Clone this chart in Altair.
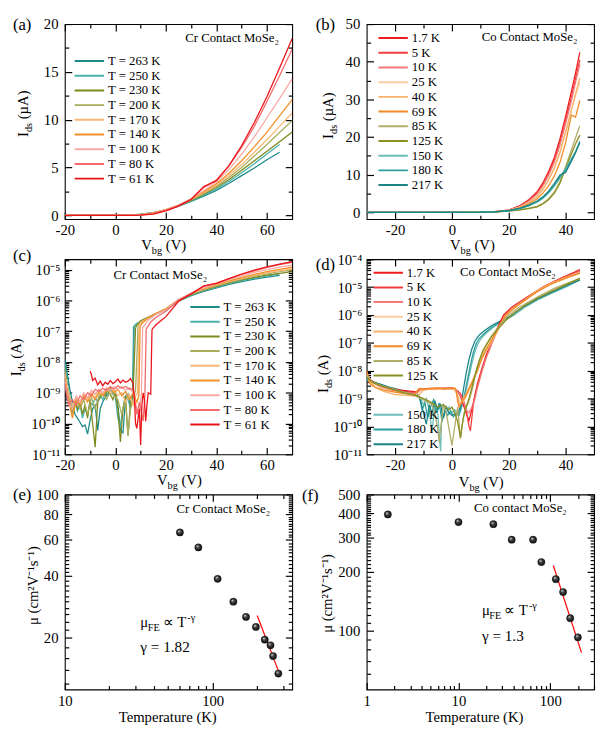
import altair as alt
import pandas as pd

SERIF = "Liberation Serif"
W, H = 232, 199
ONE = pd.DataFrame({"o": [0]})

# ---------------- legend labels / colours ----------------
CR_T = ["T = 263 K", "T = 250 K", "T = 230 K", "T = 200 K", "T = 170 K",
        "T = 140 K", "T = 100 K", "T = 80 K", "T = 61 K"]
CR_COL = ["#1d8b88", "#48b3ae", "#7d891d", "#a9ad5d", "#f7b878",
          "#f29028", "#f6aaa6", "#f26a6a", "#e8141a"]
CO_T = ["1.7 K", "5 K", "10 K", "25 K", "40 K", "69 K", "85 K", "125 K",
        "150 K", "180 K", "217 K"]
CO_COL = ["#ee1c1c", "#f23c3c", "#f27a7a", "#f9cda0", "#f8b26a", "#f08a24",
          "#b0ae68", "#8a8f22", "#6cbcb8", "#2f9f9c", "#1a8583"]

# ---------------- (a) Cr contact, I_ds (uA) vs V_bg ----------------
A_V = [-20, -10, 0, 5, 10, 15, 20, 25, 30, 35, 40, 45, 50, 55, 60, 65, 70]
A_263 = [0, 0, 0, 0, 0.12, 0.28, 0.55, 0.95, 1.45, 2.0, 2.6, 3.35, 4.15, 4.95, 5.8, 6.6]
A_250 = [0, 0, 0, 0, 0.1, 0.27, 0.55, 0.97, 1.5, 2.1, 2.75, 3.55, 4.45, 5.4, 6.4, 7.4]
A_230 = [0, 0, 0, 0, 0.08, 0.26, 0.56, 1.0, 1.55, 2.2, 2.9, 3.75, 4.7, 5.7, 6.7, 7.7, 8.7]
A_200 = [0, 0, 0, 0, 0.07, 0.25, 0.57, 1.02, 1.6, 2.3, 3.05, 3.95, 5.0, 6.2, 7.4, 8.65, 9.9]
A_170 = [0, 0, 0, 0, 0.06, 0.24, 0.58, 1.05, 1.65, 2.35, 3.15, 4.15, 5.3, 6.6, 7.9, 9.3, 10.7]
A_140 = [0, 0, 0, 0, 0.05, 0.22, 0.58, 1.07, 1.7, 2.45, 3.3, 4.4, 5.7, 7.15, 8.7, 10.4, 12.1]
A_100 = [0, 0, 0, 0, 0.04, 0.2, 0.56, 1.07, 1.72, 2.6, 3.5, 4.8, 6.4, 8.2, 10.2, 12.2, 14.3]
A_80 = [0, 0, 0, 0, 0.03, 0.17, 0.52, 1.02, 1.7, 2.9, 3.7, 5.2, 7.1, 9.3, 11.9, 14.6, 17.4]
A_61 = [0, 0, 0, 0, 0.02, 0.12, 0.45, 0.95, 1.65, 3.0, 3.6, 5.2, 7.3, 9.7, 12.4, 15.4, 18.5]
A_ALL = [A_263, A_250, A_230, A_200, A_170, A_140, A_100, A_80, A_61]

# ---------------- (b) Co contact, I_ds (uA) vs V_bg ----------------
B_V = [-30, -10, 10, 15, 20, 24, 27, 30, 32, 34, 36, 38, 40, 42, 43.5, 45]
B_1_7 = [0, 0, 0.02, 0.15, 0.6, 1.8, 3.3, 5.5, 7.8, 10.8, 14.5, 19.5, 25.5, 32, 37, 42.5]
B_5 = [0, 0, 0.02, 0.15, 0.58, 1.7, 3.1, 5.2, 7.4, 10.3, 13.8, 18.6, 24.5, 30.5, 35.5, 40.5]
B_10 = [0, 0, 0.02, 0.14, 0.55, 1.6, 2.9, 4.9, 7.0, 9.8, 13.2, 17.8, 23.5, 29.5, 34.5, 39.3]
B_25 = [0, 0, 0.02, 0.13, 0.5, 1.4, 2.6, 4.4, 6.3, 8.8, 11.9, 16.2, 21.5, 27, 31, 34.5]
B_40 = [0, 0, 0.02, 0.13, 0.5, 1.35, 2.5, 4.2, 6.0, 8.5, 11.6, 15.8, 21.2, 27, 31.5, 35.7]
B_69 = [0, 0, 0.02, 0.12, 0.45, 1.2, 2.2, 3.6, 5.1, 7.0, 9.6, 13.2, 18.5, 25.8, 25.3, 29.7]
B_85 = [0, 0, 0.02, 0.1, 0.32, 0.7, 1.1, 1.6, 2.4, 3.6, 5.4, 8.2, 12.2, 16.5, 19.8, 23.0]
B_125 = [0, 0, 0.02, 0.09, 0.3, 0.65, 1.0, 1.45, 2.2, 3.3, 5.0, 7.7, 11.6, 15.5, 18.2, 20.5]
B_150 = [0, 0, 0.02, 0.11, 0.4, 1.0, 1.7, 2.7, 3.7, 5.1, 6.9, 9.1, 11.6, 14.2, 16.2, 18.6]
B_180 = [0, 0, 0.02, 0.11, 0.42, 1.05, 1.8, 2.9, 3.9, 5.4, 7.2, 9.4, 11.3, 13.8, 16.0, 18.5]
B_217 = [0, 0, 0.02, 0.12, 0.45, 1.1, 1.9, 3.0, 4.1, 5.6, 7.6, 9.9, 10.6, 13.5, 15.8, 18.8]
B_ALL = [B_1_7, B_5, B_10, B_25, B_40, B_69, B_85, B_125, B_150, B_180, B_217]

# ---------------- (c) Cr contact, log I_ds (A): off state + switch-on ----------------
C263_V = [-20, -19, -18, -17, -16, -15, -14, -13, -12, -11, -10, -9, -8, -7, -6, -5, -4, -3, -2, -1,
          0, 1, 2, 3, 4, 5, 6, 6.8, 7.2, 8, 10, 13, 16, 20]
C263_I = [1.2e-8, 4e-9, 1.3e-9, 5e-10, 2e-10, 1.5e-10, 1.1e-10, 8e-11, 9e-11, 4.5e-11, 1.3e-10, 3e-10,
          4e-10, 6e-11, 3e-10, 5e-10, 7e-10, 9e-10, 1.4e-9, 1e-9, 1.1e-9, 4e-10, 6e-11, 5e-11, 6e-10,
          9e-10, 4e-10, 5e-10, 1.4e-7, 1.6e-7, 2e-7, 2.7e-7, 3.6e-7, 5e-7]
C250_V = [-20, -19, -18, -17, -16, -15, -14, -13, -12, -11, -10, -9, -8, -7, -6, -5, -4, -3, -2, -1,
          0, 1, 2, 3, 4, 5, 6, 7, 7.5, 8, 10, 13, 16, 20]
C250_I = [8e-9, 2e-9, 8e-10, 3e-10, 5e-10, 2.5e-10, 4e-10, 1.5e-10, 3e-10, 2e-10, 5e-10, 4e-10, 7e-10,
          5e-10, 8e-10, 6e-10, 1e-9, 8e-10, 1.2e-9, 1e-9, 7e-10, 1.5e-10, 9e-11, 3e-10, 8e-10, 6e-10,
          3e-10, 8e-10, 1.5e-7, 1.7e-7, 2.1e-7, 2.8e-7, 3.7e-7, 5.1e-7]
C230_V = [-20, -19, -18, -17, -16, -15, -14, -13, -12, -11, -10, -9, -8, -7, -6, -5, -4, -3, -2, -1,
          0, 1, 2, 3, 4, 5, 6, 7, 8, 8.5, 10, 13, 16, 20]
C230_I = [6e-9, 1.5e-9, 5e-10, 2e-10, 6e-10, 3e-10, 5e-10, 2e-10, 4e-10, 1.5e-10, 6e-10, 1e-10, 1.7e-11,
          5e-10, 7e-10, 1e-9, 8e-10, 1.2e-9, 9e-10, 6e-10, 1e-9, 3e-10, 2.5e-11, 3e-10, 8e-10, 4e-11,
          5e-10, 1e-9, 1.3e-7, 1.6e-7, 2.2e-7, 2.9e-7, 3.8e-7, 5.2e-7]
C200_V = [-20, -18.5, -17, -15.5, -14, -12.5, -11, -9.5, -8, -6.5, -5, -3.5, -2, -0.5, 1, 2.5, 4, 5,
          6, 7, 8, 9, 10, 13, 16, 20]
C200_I = [5e-9, 8e-10, 2e-10, 5e-10, 3e-10, 6e-10, 2e-10, 7e-10, 3e-10, 8e-10, 1e-9, 6e-10, 1.1e-9,
          8e-10, 6e-10, 2e-10, 6e-10, 4e-11, 3e-10, 6e-10, 1.2e-9, 1.6e-7, 2e-7, 2.8e-7, 3.8e-7, 5.3e-7]
C170_V = [-20, -18.5, -17, -15.5, -14, -12.5, -11, -9.5, -8, -6.5, -5, -3.5, -2, -0.5, 1, 2.5, 4, 5.5,
          7, 8, 8.8, 9.3, 10, 13, 16, 20]
C170_I = [4e-9, 1e-9, 4e-10, 7e-10, 5e-10, 9e-10, 6e-10, 1e-9, 7e-10, 1.2e-9, 9e-10, 1.3e-9, 1e-9,
          1.2e-9, 8e-10, 1e-9, 5e-10, 9e-10, 4e-10, 8e-10, 1e-9, 1.5e-7, 1.9e-7, 2.8e-7, 3.8e-7, 5.4e-7]
C140_V = [-20, -18.5, -17, -15.5, -14, -12.5, -11, -9.5, -8, -6.5, -5, -3.5, -2, -0.5, 1, 2.5, 4, 5.5,
          7, 8.5, 9.3, 9.8, 10.5, 13, 16, 20]
C140_I = [3e-9, 6e-10, 1.5e-10, 6e-10, 4e-10, 8e-10, 5e-10, 9e-10, 6e-10, 1e-9, 8e-10, 1.2e-9, 1.5e-9,
          1e-9, 1.3e-9, 8e-10, 1.1e-9, 6e-10, 1e-9, 5e-10, 8e-10, 1.4e-7, 1.8e-7, 2.7e-7, 3.8e-7, 5.4e-7]
C100_V = [-20, -18.5, -17, -15.5, -14, -12.5, -11, -9.5, -8, -6.5, -5, -3.5, -2, -0.5, 1, 2.5, 4, 5.5,
          7, 8.5, 9.5, 10.3, 10.8, 13, 16, 20]
C100_I = [2.5e-9, 5e-10, 3e-10, 8e-10, 5e-10, 1e-9, 7e-10, 1.2e-9, 9e-10, 1.3e-9, 1e-9, 1.5e-9, 1.2e-9,
          1.6e-9, 1.3e-9, 1.6e-9, 1.2e-9, 1.5e-9, 1e-9, 3e-10, 2e-10, 1e-9, 1.3e-7, 2.3e-7, 3.5e-7, 5e-7]
C80_V = [-20, -18.5, -17, -15.5, -14, -12.5, -11, -9.5, -8, -6.5, -5, -3.5, -2, -0.5, 1, 2.5, 4, 5.5,
         7, 8.5, 9.5, 11, 11.7, 12.2, 14, 16, 20]
C80_I = [2e-9, 4e-10, 6e-10, 4e-10, 8e-10, 6e-10, 1e-9, 8e-10, 1.3e-9, 1.1e-9, 1.4e-9, 1.2e-9, 1.6e-9,
         1.3e-9, 1.7e-9, 1.4e-9, 1.6e-9, 1.3e-9, 1.4e-9, 2e-10, 5e-10, 1.2e-10, 9e-10, 1.2e-7, 2e-7,
         2.8e-7, 4.5e-7]
C61_V = [-10, -9.5, -9, -8, -7, -6, -5, -4, -3, -2, -1, 0, 1, 2, 3, 4, 5, 6, 7, 7.5, 8, 8.5, 9, 9.5,
         10, 10.5, 11, 11.5, 12, 12.5, 13, 14, 14.5, 15, 16, 18, 20]
C61_I = [5e-9, 4e-9, 2.5e-9, 3e-9, 1.8e-9, 2.4e-9, 1.7e-9, 2.2e-9, 1.9e-9, 2.5e-9, 2e-9, 2.3e-9, 2.8e-9,
         2.1e-9, 2.6e-9, 2.2e-9, 2.4e-9, 2.9e-9, 2e-9, 7e-10, 1e-10, 7e-11, 1.5e-10, 3e-10, 2e-11, 4e-10,
         1e-9, 6e-10, 1.2e-10, 4e-10, 1e-9, 9e-10, 1.1e-7, 1.3e-7, 1.6e-7, 2.2e-7, 3e-7]
C_OFF = [(C263_V, C263_I), (C250_V, C250_I), (C230_V, C230_I), (C200_V, C200_I), (C170_V, C170_I),
         (C140_V, C140_I), (C100_V, C100_I), (C80_V, C80_I), (C61_V, C61_I)]

# ---------------- (d) Co contact, log I_ds (A) ----------------
D1_7_V = [-30, -29, -26, -22, -18, -14, -12, -11.5, -8, -4, 0, 1, 2, 3, 4, 5, 6, 7, 8, 9, 10.3, 12,
          13.7, 16, 18.2, 21, 25, 28, 32, 36, 40, 43, 45]
D1_7_I = [9e-9, 5e-9, 3e-9, 2.3e-9, 2e-9, 1.8e-9, 1.7e-9, 2.2e-9, 2.3e-9, 2.3e-9, 2.4e-9, 2.2e-9, 1.8e-9,
          1.2e-9, 6e-10, 3e-10, 1.6e-10, 4e-10, 1.2e-9, 3.5e-9, 1e-8, 3.5e-8, 1e-7, 3.5e-7, 1e-6, 1.9e-6,
          3.5e-6, 5.5e-6, 1e-5, 1.6e-5, 2.5e-5, 3.4e-5, 4.3e-5]
D5_V = [-30, -29, -26, -22, -18, -14, -12, -11, -8, -4, 0, 1, 2, 3, 4, 5, 5.5, 6, 6.5, 7, 7.5, 8, 9,
        10.5, 12, 14, 16, 18.5, 21, 25, 28, 32, 36, 40, 43, 45]
D5_I = [8e-9, 4.5e-9, 2.8e-9, 2.1e-9, 1.8e-9, 1.6e-9, 1.6e-9, 2.1e-9, 2.2e-9, 2.3e-9, 2.3e-9, 2.1e-9,
        1.9e-9, 1.5e-9, 9e-10, 4e-10, 2e-10, 1e-10, 7e-11, 2e-10, 6e-10, 1.1e-9, 3e-9, 1e-8, 3e-8, 1e-7,
        3e-7, 9e-7, 1.8e-6, 3.3e-6, 5.2e-6, 9.5e-6, 1.5e-5, 2.4e-5, 3.2e-5, 4e-5]
D10_V = [-30, -28, -25, -21, -17, -13, -11.5, -8, -4, 0, 1.5, 3, 4, 5, 6, 7, 8, 9, 10.5, 12, 14, 16,
         18.5, 21, 25, 28, 32, 36, 40, 45]
D10_I = [7e-9, 3.8e-9, 2.6e-9, 2e-9, 1.7e-9, 1.5e-9, 2.1e-9, 2.2e-9, 2.3e-9, 2.2e-9, 2e-9, 1.3e-9, 8e-10,
         4e-10, 3e-10, 5e-10, 9e-10, 2.5e-9, 9e-9, 2.8e-8, 9e-8, 2.8e-7, 8.5e-7, 1.7e-6, 3.2e-6, 5e-6,
         9e-6, 1.5e-5, 2.3e-5, 3.7e-5]
D25_V = [-30, -28, -25, -21, -17, -13, -11, -8, -5, -2, 0, 1, 2, 3, 4, 5, 6, 7, 8, 9, 10, 11.5, 13.5,
         16, 19, 22, 26, 30, 35, 40, 45]
D25_I = [7e-9, 3.5e-9, 2.4e-9, 1.8e-9, 1.5e-9, 1.3e-9, 1.9e-9, 2.2e-9, 2.1e-9, 2.3e-9, 2.2e-9, 2e-9,
         1.4e-9, 7e-10, 8e-10, 1.2e-9, 2e-9, 3.5e-9, 6e-9, 1e-8, 2e-8, 4e-8, 9e-8, 2.6e-7, 9e-7, 1.8e-6,
         3.5e-6, 7e-6, 1.3e-5, 2e-5, 3.1e-5]
D40_V = [-30, -29, -27, -24, -20, -16, -12, -10, -8, -6, -4, -2, 0, 1, 2, 2.5, 3, 4, 5, 6, 7, 8, 9,
         10, 11.5, 13.5, 16, 19, 22, 26, 30, 35, 40, 45]
D40_I = [8e-9, 4e-9, 2.5e-9, 1.8e-9, 1.4e-9, 1.3e-9, 1.2e-9, 2e-9, 2.2e-9, 2.1e-9, 2.3e-9, 2.2e-9,
         2.3e-9, 2.1e-9, 1.2e-9, 6e-10, 7e-10, 1e-9, 1.5e-9, 2.5e-9, 4e-9, 7e-9, 1.2e-8, 2.3e-8, 5e-8,
         1.1e-7, 3e-7, 1e-6, 1.9e-6, 3.7e-6, 7.5e-6, 1.4e-5, 2.2e-5, 3.3e-5]
D69_V = [-30, -29.5, -29, -27, -24, -20, -16, -13, -12, -11, -9, -7, -5, -3, -1, 0, 1, 1.5, 2, 2.5,
         3, 4, 5, 6, 7, 8, 9, 10, 11.5, 13.5, 16, 19, 22, 26, 30, 35, 40, 45]
D69_I = [1e-8, 6e-9, 3.5e-9, 2.5e-9, 2e-9, 1.7e-9, 1.5e-9, 1.4e-9, 2.1e-9, 2.3e-9, 2.2e-9, 2.3e-9,
         2.4e-9, 2.2e-9, 2.4e-9, 2.3e-9, 2.4e-9, 2e-9, 8e-10, 5e-10, 6e-10, 9e-10, 1.3e-9, 2.2e-9,
         3.5e-9, 6e-9, 1e-8, 2e-8, 4.5e-8, 1e-7, 2.8e-7, 1e-6, 1.8e-6, 3.5e-6, 7e-6, 1.3e-5, 2.1e-5, 3.2e-5]
D85_V = [-30, -28, -25, -21, -17, -13, -11, -9, -7, -6, -5, -4.5, -4, -3, -2, -1, 0, 1, 2, 3, 3.5,
         4.5, 5.5, 6.5, 7.5, 8.5, 9.5, 10.5, 11.5, 12.5, 14, 16, 19.5, 23, 27, 31, 36, 40, 45]
D85_I = [7e-9, 4e-9, 3e-9, 2.3e-9, 1.7e-9, 1.3e-9, 1e-9, 8e-10, 6e-10, 3e-10, 8e-11, 2.8e-11, 8e-11,
         6e-10, 3e-10, 8e-11, 2.1e-11, 1e-10, 5e-10, 3.6e-11, 1e-10, 4e-10, 6e-10, 1.2e-9, 3e-9, 1e-8,
         2.2e-8, 4e-8, 6.5e-8, 1e-7, 1.8e-7, 3.4e-7, 9e-7, 1.7e-6, 3e-6, 5e-6, 9e-6, 1.3e-5, 2e-5]
D125_V = [-30, -28, -25, -21, -17, -13, -11, -9, -7, -5, -3, -1, 0, 1, 2, 3, 4, 5, 6, 7, 8, 9, 10,
          11, 12.5, 14, 16, 19, 22, 26, 30, 35, 40, 45]
D125_I = [6e-9, 3.8e-9, 2.9e-9, 2.2e-9, 1.6e-9, 1.3e-9, 1.1e-9, 9e-10, 7e-10, 5e-10, 6e-10, 4e-10,
          5e-10, 3e-10, 1.5e-10, 4e-11, 2e-10, 5e-10, 1e-9, 2.5e-9, 6e-9, 1.4e-8, 3e-8, 5.5e-8, 1e-7,
          1.7e-7, 3e-7, 6.5e-7, 1.2e-6, 2.3e-6, 4e-6, 7e-6, 1.2e-5, 2.1e-5]
D150_V = [-30, -28, -25, -21, -17, -13, -11, -10, -9, -8, -7, -6, -5, -4, -3.5, -3, -2, -1, 0, 1, 2,
          3, 4, 5, 6, 7, 8, 9, 10, 12, 14, 16, 19, 22, 26, 30, 35, 40, 45]
D150_I = [5e-9, 3.5e-9, 2.8e-9, 2.2e-9, 1.7e-9, 1.4e-9, 1e-9, 6e-10, 1e-9, 4e-10, 6e-11, 7e-10, 3e-10,
          1.3e-11, 4e-10, 6e-10, 3e-10, 5e-10, 3e-10, 4e-10, 2.5e-10, 3.5e-10, 8e-10, 2e-9, 6e-9, 1.8e-8,
          4.5e-8, 8.5e-8, 1.3e-7, 2.2e-7, 3.3e-7, 4.6e-7, 6.8e-7, 1e-6, 2e-6, 3.4e-6, 6e-6, 1e-5, 1.8e-5]
D180_V = [-30, -28, -25, -21, -17, -13, -11.5, -10.5, -9.5, -8.5, -7.5, -6.5, -5.5, -4.5, -3.5, -2.5,
          -1.5, -0.5, 0.5, 1.5, 2.5, 3.5, 4.5, 5.5, 6.5, 7.5, 8.5, 9.5, 11, 13, 15, 18, 21, 25, 30, 35,
          40, 45]
D180_I = [5e-9, 3.8e-9, 3e-9, 2.3e-9, 1.8e-9, 1.5e-9, 1.2e-9, 4e-10, 7e-10, 2e-10, 5e-10, 9e-10, 3e-10,
          7e-10, 1.5e-10, 4e-10, 2.5e-10, 3.5e-10, 2.2e-10, 3e-10, 2.5e-10, 6e-10, 1.5e-9, 5e-9, 1.6e-8,
          4.5e-8, 9e-8, 1.4e-7, 2e-7, 3e-7, 4.3e-7, 6.5e-7, 9.5e-7, 2e-6, 3.8e-6, 6.5e-6, 1.1e-5, 1.85e-5]
D217_V = [-30, -29, -26, -22, -18, -14, -12, -11, -10, -9, -8, -7, -6, -5, -4, -3, -2, -1, 0, 1, 2, 3,
          4, 5, 6, 7, 8, 9, 10, 12, 14, 17, 20, 25, 30, 35, 40, 45]
D217_I = [6e-9, 4.5e-9, 3.5e-9, 2.6e-9, 2e-9, 1.6e-9, 1.4e-9, 8e-10, 3e-10, 1.2e-10, 6e-10, 3e-10,
          8e-10, 4e-10, 6e-10, 2e-10, 5e-10, 3e-10, 2.5e-10, 2.8e-10, 3e-10, 5e-10, 2e-9, 8e-9, 2.5e-8,
          6e-8, 1.1e-7, 1.6e-7, 2.1e-7, 3e-7, 4.2e-7, 6e-7, 8.5e-7, 1.9e-6, 3.8e-6, 6.5e-6, 1.1e-5, 1.8e-5]
D_ALL = [(D1_7_V, D1_7_I), (D5_V, D5_I), (D10_V, D10_I), (D25_V, D25_I), (D40_V, D40_I),
         (D69_V, D69_I), (D85_V, D85_I), (D125_V, D125_I), (D150_V, D150_I), (D180_V, D180_I),
         (D217_V, D217_I)]

# ---------------- (e), (f) mobility vs temperature ----------------
E_T = [60, 80, 108, 138, 168, 196, 225, 246, 256, 278]
E_MU = [65.3, 55.2, 38.8, 30.0, 25.3, 22.6, 19.6, 18.4, 16.3, 13.4]
E_FIT_T = [200, 285]
E_FIT_MU = [25.7, 13.2]
F_T = [1.7, 10, 24, 38, 65, 80, 115, 138, 165, 200]
F_MU = [395, 361, 352, 293, 293, 225, 184, 158, 116, 92.6]
F_FIT_T = [108, 219]
F_FIT_MU = [216, 77.3]


# ================= helpers =================
def long_df(labels, series, field="T"):
    rows = []
    for lab, (vs, ys) in zip(labels, series):
        for k, (v, y) in enumerate(zip(vs, ys)):
            rows.append({"V": v, "I": y, field: lab, "k": k})
    return pd.DataFrame(rows)


SUP = str.maketrans("-0123456789", "⁻⁰¹²³⁴⁵⁶⁷⁸⁹")
PLAIN = "(datum.value < 0 ? '-' : '') + abs(datum.value)"


def pow10_expr(e0, e1):
    expr = "''"
    for e in range(e1, e0 - 1, -1):
        expr = f"datum.value < {3 * 10.0 ** e:.3g} ? '10{str(e).translate(SUP)}' : (" + expr + ")"
    return expr


def log_minor(lo, hi, e0, e1):
    return [k * 10.0 ** e for e in range(e0, e1 + 1) for k in range(2, 10) if lo <= k * 10.0 ** e <= hi]


def frame_layers(xs, ys, x0, y0, xmaj, xmin, ymaj, ymin, xexpr=PLAIN, yexpr=PLAIN, ypad=7):
    d = pd.DataFrame({"fx": [x0], "fy": [y0]})

    def ax(orient, vals, size, labels=False, expr=PLAIN, pad=4):
        if labels:
            return alt.Axis(orient=orient, values=vals, grid=False, domain=False, title=None,
                            ticks=False, tickSize=0, labelExpr=expr, labelPadding=pad,
                            labelFlush=False, labelOverlap=False, labelFont=SERIF,
                            labelFontSize=15, labelColor="black")
        return alt.Axis(orient=orient, values=vals, grid=False, domain=False, title=None,
                        labels=False, ticks=True, tickSize=size, offset=-size,
                        tickColor="black", tickWidth=1.2)

    specs = [
        (ax("bottom", xmaj, 0, True, xexpr, 4), ax("left", ymaj, 0, True, yexpr, ypad)),
        (ax("bottom", xmaj, 7), ax("left", ymaj, 7)),
        (ax("top", xmaj, 7), ax("right", ymaj, 7)),
        (ax("bottom", xmin, 4), ax("left", ymin, 4)),
        (ax("top", xmin, 4), ax("right", ymin, 4)),
    ]
    return [alt.Chart(d).mark_point(opacity=0).encode(
        x=alt.X("fx:Q", scale=xs, axis=a1), y=alt.Y("fy:Q", scale=ys, axis=a2)) for a1, a2 in specs]


def legend(x, y):
    return alt.Legend(orient="none", legendX=x, legendY=y, title=None, symbolType="stroke",
                      symbolSize=900, symbolStrokeWidth=2, clipHeight=14.6, rowPadding=0,
                      labelFont=SERIF, labelFontSize=13, labelColor="black", labelOffset=3,
                      padding=0, labelLimit=200)


def lines(df, xs, ys, field, labels, colors, leg):
    return alt.Chart(df).mark_line(strokeWidth=1.3, clip=True).encode(
        x=alt.X("V:Q", scale=xs, axis=None),
        y=alt.Y("I:Q", scale=ys, axis=None),
        color=alt.Color(f"{field}:N", scale=alt.Scale(domain=labels, range=colors), legend=leg),
        order="k:Q")


def txt(s, x, y, size=15, angle=0, align="left", baseline="alphabetic"):
    return alt.Chart(ONE).mark_text(text=s, font=SERIF, fontSize=size, angle=angle, align=align,
                                    baseline=baseline, color="black").encode(
        x=alt.value(x), y=alt.value(y))


def dtxt(s, xv, yv, xs, ys, size=13, dx=0, dy=0, align="left", baseline="alphabetic"):
    d = pd.DataFrame({"ax": [xv], "ay": [yv]})
    return alt.Chart(d).mark_text(text=s, font=SERIF, fontSize=size, dx=dx, dy=dy, align=align,
                                  baseline=baseline, color="black").encode(
        x=alt.X("ax:Q", scale=xs, axis=None), y=alt.Y("ay:Q", scale=ys, axis=None))


def xtitle_vbg(cx, by):
    x0 = cx - 23
    return [txt("V", x0, by), txt("bg", x0 + 10.8, by + 4, size=10.5), txt("(V)", x0 + 25, by)]


def ytitle_ids(bx, cy, unit, unit_w):
    total = 5 + 9.3 + 3.75 + unit_w
    y0 = cy + total / 2
    return [txt("I", bx, y0, angle=270), txt("ds", bx + 4, y0 - 5, size=10.5, angle=270),
            txt(unit, bx, y0 - 18, angle=270)]


def mu_fe(xv, yv, xs, ys):
    return [dtxt("μ", xv, yv, xs, ys, 15), dtxt("FE", xv, yv, xs, ys, 10.5, dx=7.5, dy=4),
            dtxt("∝ T", xv, yv, xs, ys, 15, dx=23), dtxt("-γ", xv, yv, xs, ys, 10.5, dx=48, dy=-6)]


def panel(layers, indep_color=False):
    ch = alt.layer(*layers).properties(width=W, height=H).resolve_axis(x="independent", y="independent")
    if indep_color:
        ch = ch.resolve_scale(color="independent")
    return ch


SPHERE = alt.RadialGradient(gradient="radial", x1=0.35, y1=0.3, r1=0, x2=0.5, y2=0.5, r2=0.6,
                            stops=[alt.GradientStop(offset=0, color="#f0f0f0"),
                                   alt.GradientStop(offset=0.35, color="#444444"),
                                   alt.GradientStop(offset=1, color="#000000")])


def spheres(T, MU, xs, ys):
    d = pd.DataFrame({"Tk": T, "mu": MU})
    return alt.Chart(d).mark_circle(size=55, opacity=1, fill=SPHERE, stroke="#000000",
                                    strokeWidth=0.4).encode(
        x=alt.X("Tk:Q", scale=xs, axis=None), y=alt.Y("mu:Q", scale=ys, axis=None))


def fit(T, MU, xs, ys):
    d = pd.DataFrame({"Tk": T, "mu": MU})
    return alt.Chart(d).mark_line(color="#ff1010", strokeWidth=1.3).encode(
        x=alt.X("Tk:Q", scale=xs, axis=None), y=alt.Y("mu:Q", scale=ys, axis=None))


# ================= panel (a) =================
xa = alt.Scale(domain=[-20, 70], nice=False, zero=False)
ya = alt.Scale(domain=[-0.4, 20], nice=False, zero=False)
df_a = long_df(CR_T, [(A_V, s) for s in A_ALL])
pa = panel(
    frame_layers(xa, ya, -20, 0, [-20, 0, 20, 40, 60], [-10, 10, 30, 50], [0, 5, 10, 15, 20],
                 [2.5, 7.5, 12.5, 17.5])
    + [lines(df_a, xa, ya, "T", CR_T, CR_COL, legend(9, 30.4)),
       dtxt("Cr Contact MoSe₂", 46.2, 18.5, xa, ya, 13, align="center", baseline="middle"),
       txt("(a)", -53, -7, size=17, baseline="top")]
    + ytitle_ids(-38, 92, "(µA)", 28.3) + xtitle_vbg(101, 231))

# ================= panel (b) =================
xb = alt.Scale(domain=[-30, 50], nice=False, zero=False)
yb = alt.Scale(domain=[-1.8, 50], nice=False, zero=False)
df_b = long_df(CO_T, [(B_V, s) for s in B_ALL])
pb = panel(
    frame_layers(xb, yb, -30, 0, [-20, 0, 20, 40], [-10, 10, 30], [0, 10, 20, 30, 40, 50],
                 [5, 15, 25, 35, 45])
    + [lines(df_b, xb, yb, "T", CO_T, CO_COL, legend(11, 7)),
       dtxt("Co Contact MoSe₂", 27.3, 46.5, xb, yb, 13, align="center", baseline="middle"),
       txt("(b)", -52, -7, size=17, baseline="top")]
    + ytitle_ids(-34, 94, "(µA)", 28.3) + xtitle_vbg(108, 231))

# ================= panel (c) =================
xc = alt.Scale(domain=[-20, 70], nice=False, zero=False)
yc = alt.Scale(type="log", domain=[1e-11, 2.2e-5], nice=False)
c_series = []
for (vs, ys), a in zip(C_OFF, A_ALL):
    c_series.append((vs + A_V[7:], ys + [v * 1e-6 for v in a[7:]]))
df_c = long_df(CR_T, c_series)
pc = panel(
    frame_layers(xc, yc, -20, 1e-9, [-20, 0, 20, 40, 60], [-10, 10, 30, 50],
                 [10.0 ** e for e in range(-11, -4)], log_minor(1e-11, 2.2e-5, -11, -5),
                 yexpr=pow10_expr(-11, -5), ypad=5)
    + [lines(df_c, xc, yc, "T", CR_T, CR_COL, legend(127, 41.4)),
       dtxt("Cr Contact MoSe₂", 17.8, 6.6e-6, xc, yc, 13, align="center", baseline="middle"),
       txt("(c)", -53, -11, size=17, baseline="top")]
    + ytitle_ids(-45, 100, "(A)", 20.8) + xtitle_vbg(117, 230))

# ================= panel (d) =================
xd = alt.Scale(domain=[-30, 50], nice=False, zero=False)
yd = alt.Scale(type="log", domain=[1e-11, 1e-4], nice=False)
df_d1 = long_df(CO_T[:8], D_ALL[:8], "T")
df_d2 = long_df(CO_T[8:], D_ALL[8:], "T2")
pd_ = panel(
    frame_layers(xd, yd, -30, 1e-9, [-20, 0, 20, 40], [-10, 10, 30],
                 [10.0 ** e for e in range(-11, -3)], log_minor(1e-11, 1e-4, -11, -5),
                 yexpr=pow10_expr(-11, -4), ypad=5)
    + [lines(df_d2, xd, yd, "T2", CO_T[8:], CO_COL[8:], legend(6, 151.4)),
       lines(df_d1, xd, yd, "T", CO_T[:8], CO_COL[:8], legend(6, 6.4)),
       dtxt("Co Contact MoSe₂", 19.7, 3.4e-5, xd, yd, 13, align="center", baseline="middle"),
       txt("(d)", -52, -2, size=17, baseline="top")]
    + ytitle_ids(-39, 117, "(A)", 20.8) + xtitle_vbg(117, 232),
    indep_color=True)

# ================= panel (e) =================
xe = alt.Scale(type="log", domain=[10, 345], nice=False)
ye = alt.Scale(type="log", domain=[11.2, 100], nice=False)
pe = panel(
    frame_layers(xe, ye, 10, 20, [10, 100], [20, 30, 40, 50, 60, 70, 80, 90, 200, 300],
                 [20, 40, 60, 80, 100], [v for v in range(12, 100, 2) if v not in (20, 40, 60, 80)])
    + [fit(E_FIT_T, E_FIT_MU, xe, ye), spheres(E_T, E_MU, xe, ye),
       dtxt("Cr Contact MoSe₂", 118, 84.9, xe, ye, 13, align="center", baseline="middle"),
       dtxt("γ = 1.82", 32.4, 17.1, xe, ye, 15.5),
       txt("(e)", -53, -7, size=17, baseline="top"),
       txt("μ (cm²V⁻¹s⁻¹)", -27, 93, angle=270, align="center"),
       txt("Temperature (K)", 105, 232, align="center")]
    + mu_fe(32.4, 22.5, xe, ye))

# ================= panel (f) =================
xf = alt.Scale(type="log", domain=[1, 300], nice=False)
yf = alt.Scale(type="log", domain=[50, 500], nice=False)
pf = panel(
    frame_layers(xf, yf, 1, 100, [1, 10, 100],
                 [2, 3, 4, 5, 6, 7, 8, 9, 20, 30, 40, 50, 60, 70, 80, 90, 200, 300],
                 [100, 200, 300, 400, 500],
                 [v for v in range(60, 500, 10) if v not in (100, 200, 300, 400)])
    + [fit(F_FIT_T, F_FIT_MU, xf, yf), spheres(F_T, F_MU, xf, yf),
       dtxt("Co contact MoSe₂", 47.2, 427, xf, yf, 13, align="center", baseline="middle"),
       dtxt("γ = 1.3", 18, 89, xf, yf, 15.5),
       txt("(f)", -66, -6, size=17, baseline="top"),
       txt("μ (cm²V⁻¹s⁻¹)", -35, 101, angle=270, align="center"),
       txt("Temperature (K)", 110, 232, align="center")]
    + mu_fe(18, 120, xf, yf))

chart = alt.concat(pa, pb, pc, pd_, pe, pf, columns=2, spacing={"row": 41, "column": 76},
                   bounds="flush").resolve_scale(color="independent").properties(
    padding=0).configure_view(stroke="black", strokeWidth=1.1)

chart.save("out.html", embed_options={"renderer": "svg", "actions": False})
